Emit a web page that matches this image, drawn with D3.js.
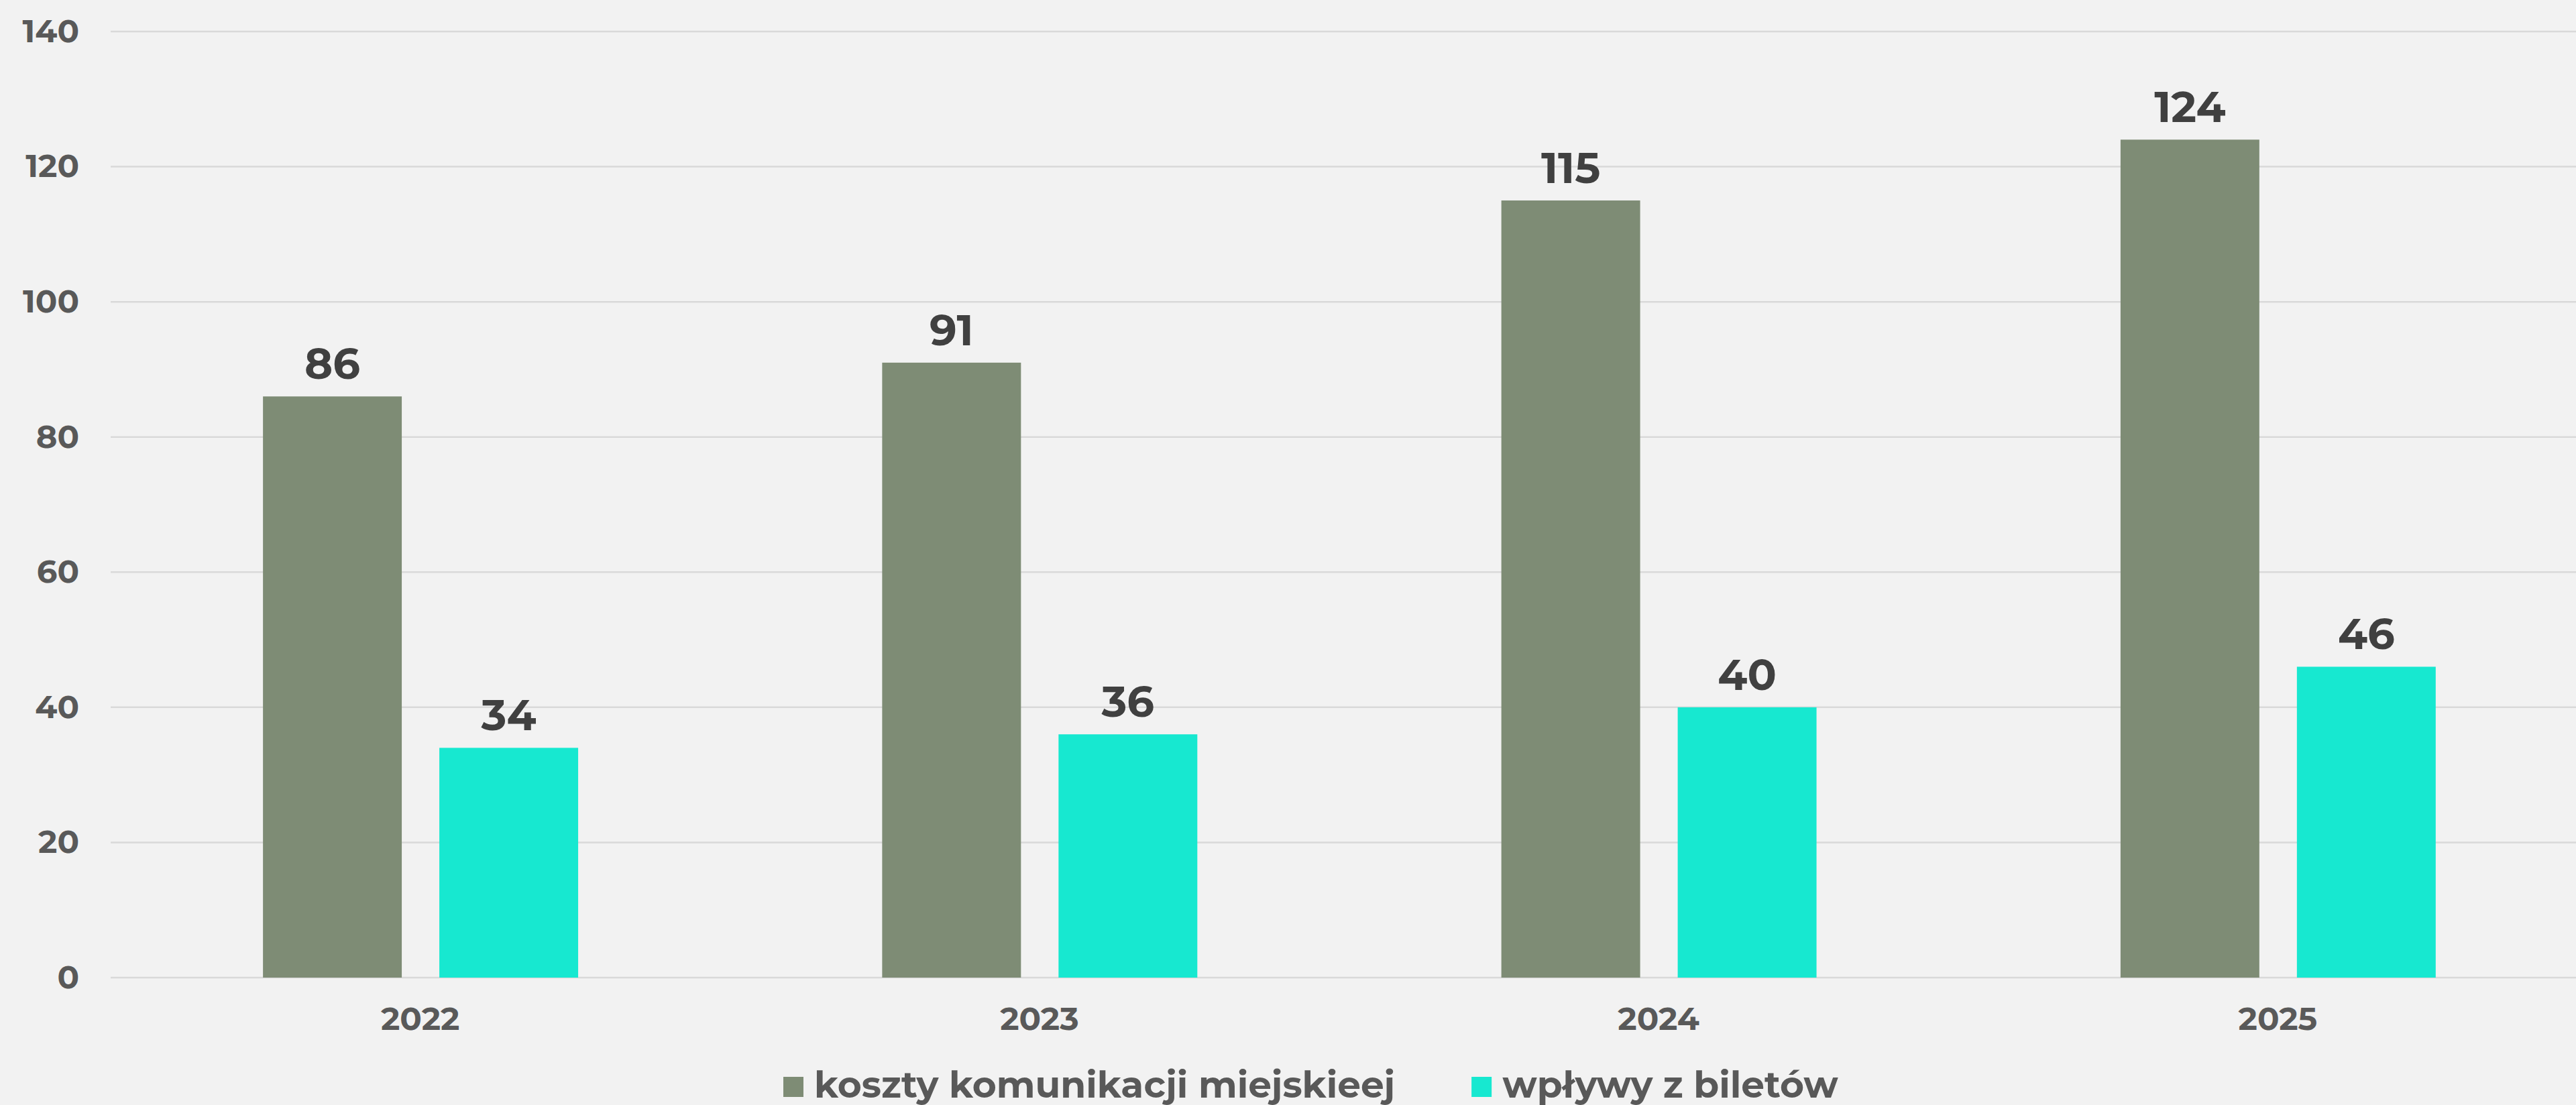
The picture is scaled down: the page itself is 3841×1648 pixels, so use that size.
<!DOCTYPE html>
<html>
<head>
<meta charset="utf-8">
<script src="https://cdn.jsdelivr.net/npm/d3@7"></script>
<style>
  body { margin: 0; background: #f2f2f2; }
  text { font-family: "Montserrat", "Inter", "Open Sans", sans-serif; font-weight: 700; }
</style>
</head>
<body>
<div id="chart"></div>
<script>
var svgWidth = 3841;
var svgHeight = 1648;

// chart data
var years = ["2022", "2023", "2024", "2025"];
var seriesNames = ["koszty komunikacji miejskieej", "wpływy z biletów"];
var costs = [86, 91, 115, 124];
var ticketIncome = [34, 36, 40, 46];
var yTicks = [0, 20, 40, 60, 80, 100, 120, 140];
var colors = ["#7e8c75", "#17e8d0"];

var margin = { top: 47, left: 165 };

var svg = d3.select("#chart")
  .append("svg")
  .attr("width", svgWidth)
  .attr("height", svgHeight);

svg.append("rect")
  .attr("width", svgWidth)
  .attr("height", svgHeight)
  .attr("fill", "#f2f2f2");

// the category bands run a little past the right edge in the original
var x0 = d3.scaleBand()
  .domain(years)
  .range([margin.left, 3858]);

var x1 = d3.scaleBand()
  .domain(seriesNames)
  .range([x0.bandwidth() * 0.246, x0.bandwidth() * 0.755])
  .paddingInner(0.213);

var y = d3.scaleLinear()
  .domain([0, 140])
  .range([1458, margin.top]);

// gridlines
svg.append("g")
  .selectAll("line")
  .data(yTicks)
  .enter()
  .append("line")
  .attr("x1", margin.left)
  .attr("x2", svgWidth)
  .attr("y1", d => y(d))
  .attr("y2", d => y(d))
  .attr("stroke", "#d9d9d9")
  .attr("stroke-width", 2.5);

// y axis labels
var yAxis = svg.append("g")
  .attr("transform", `translate(${margin.left}, 0)`)
  .call(d3.axisLeft(y).tickValues(yTicks).tickSize(0).tickPadding(47));
yAxis.select(".domain").remove();
yAxis.selectAll("text")
  .attr("fill", "#595959")
  .style("font-size", "48px");

// x axis labels
var xAxis = svg.append("g")
  .attr("transform", `translate(0, ${y(0)})`)
  .call(d3.axisBottom(x0).tickSize(0).tickPadding(44));
xAxis.select(".domain").remove();
xAxis.selectAll("text")
  .attr("fill", "#595959")
  .style("font-size", "48px");

// bars
var rows = years.map((yr, i) => ({ year: yr, values: [costs[i], ticketIncome[i]] }));

var groups = svg.append("g")
  .selectAll("g")
  .data(rows)
  .enter()
  .append("g")
  .attr("transform", d => `translate(${x0(d.year)}, 0)`);

groups.selectAll("rect")
  .data(d => d.values.map((v, j) => ({ name: seriesNames[j], value: v, idx: j })))
  .enter()
  .append("rect")
  .attr("x", d => x1(d.name))
  .attr("y", d => y(d.value))
  .attr("width", x1.bandwidth())
  .attr("height", d => y(0) - y(d.value))
  .attr("fill", d => colors[d.idx]);

groups.selectAll("text.val")
  .data(d => d.values.map((v, j) => ({ name: seriesNames[j], value: v })))
  .enter()
  .append("text")
  .attr("class", "val")
  .attr("x", d => x1(d.name) + x1.bandwidth() / 2)
  .attr("y", d => y(d.value) - 26)
  .attr("text-anchor", "middle")
  .attr("fill", "#404040")
  .style("font-size", "64px")
  .text(d => d.value);

// legend
var legend = svg.append("g")
  .attr("transform", "translate(1168, 1606)");

var lx = 0;
seriesNames.forEach(function(name, i) {
  var item = legend.append("g").attr("transform", `translate(${lx}, 0)`);
  item.append("rect")
    .attr("width", 30)
    .attr("height", 30)
    .attr("fill", colors[i]);
  var t = item.append("text")
    .attr("x", 46)
    .attr("y", 31)
    .attr("fill", "#595959")
    .style("font-size", "55px")
    .text(name);
  lx += 46 + t.node().getComputedTextLength() + 114;
});
</script>
</body>
</html>
